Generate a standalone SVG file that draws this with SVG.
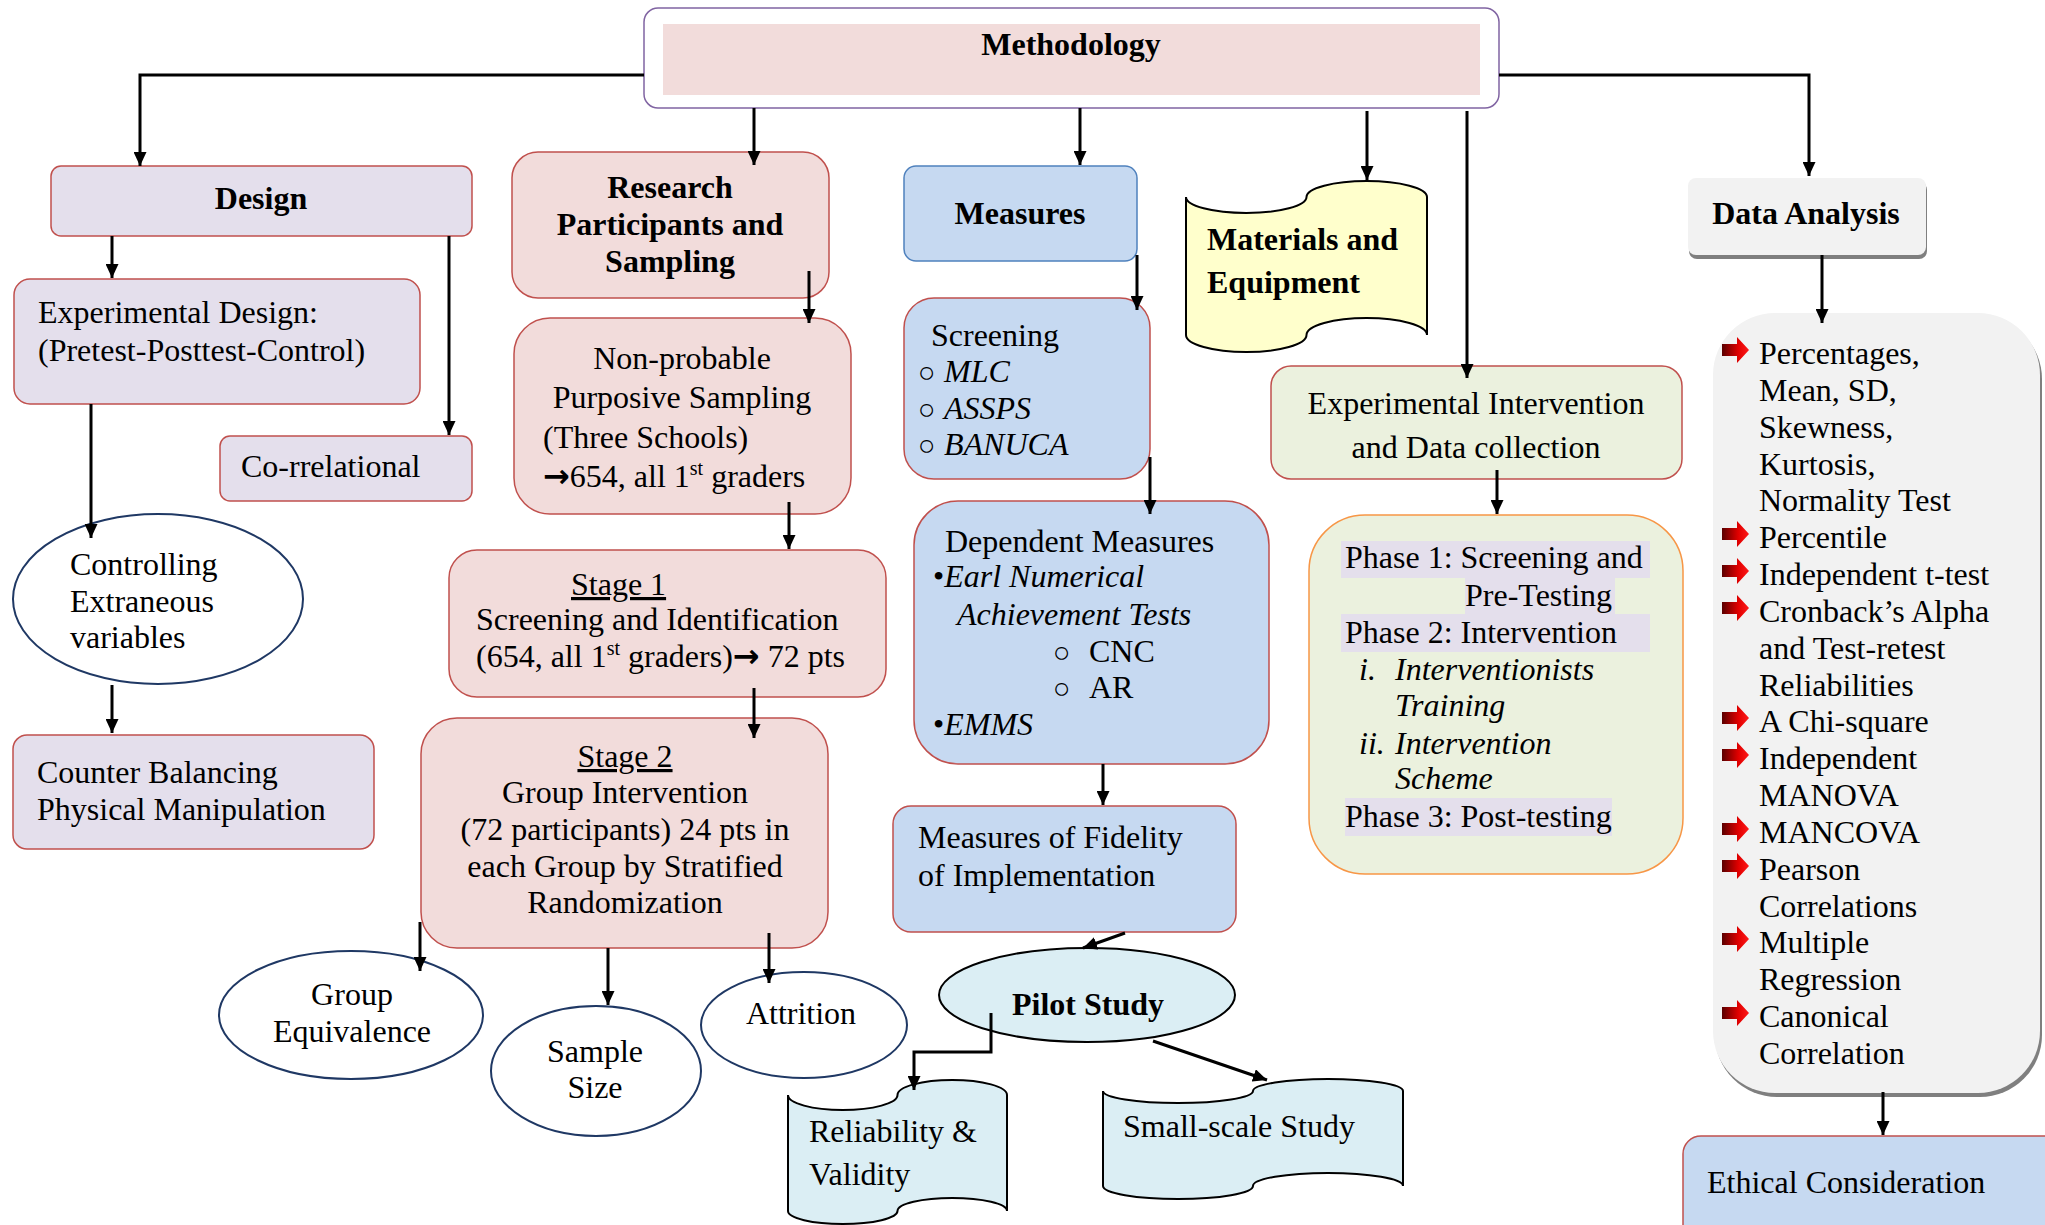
<svg xmlns="http://www.w3.org/2000/svg" width="2045" height="1225" viewBox="0 0 2045 1225">
<style>
text{font-family:"Liberation Serif","Times New Roman",serif;font-size:32px;fill:#000}
.b{font-weight:bold}
.i{font-style:italic}
.m{text-anchor:middle}
.u{text-decoration:underline}
.ar{font-family:"DejaVu Sans","Noto Sans",sans-serif;font-size:32px;font-weight:bold}
.pink{fill:#f2dcdb;stroke:#c0504d;stroke-width:1.5}
.lav{fill:#e4dfec;stroke:#c0504d;stroke-width:1.5}
.blue{fill:#c6d9f1;stroke:#c0504d;stroke-width:1.5}
.green{fill:#ebf1de;stroke:#c0504d;stroke-width:1.5}
.ell{fill:#fff;stroke:#1f3864;stroke-width:2}
.tape{fill:#dbeef4;stroke:#000;stroke-width:2}
.hl{fill:#e4dfec}
.con{fill:none;stroke:#000;stroke-width:3;marker-end:url(#ah)}
</style>
<defs>
<marker id="ah" markerUnits="userSpaceOnUse" markerWidth="14" markerHeight="13" refX="14" refY="6.5" orient="auto">
<path d="M0,0 L14,6.5 L0,13 z" fill="#000"/>
</marker>
<linearGradient id="rg" x1="0" y1="0" x2="1" y2="0">
<stop offset="0" stop-color="#5a0000"/>
<stop offset="0.6" stop-color="#e00000"/>
<stop offset="1" stop-color="#ff1a1a"/>
</linearGradient>
<polygon id="bul" points="0,-20 15,-20 15,-27 27,-14 15,-1 15,-8 0,-8" fill="url(#rg)"/>
</defs>
<rect width="2045" height="1225" fill="#fff"/>

<g id="methodology">
<rect x="644" y="8" width="855" height="100" rx="14" fill="#fff" stroke="#8064a2" stroke-width="1.5"/>
<rect x="663" y="24" width="817" height="71" fill="#f2dcdb"/>
<text class="b m" x="1071" y="55">Methodology</text>
</g>

<g id="design">
<rect class="lav" x="51" y="166" width="421" height="70" rx="10"/>
<text class="b m" x="261" y="209">Design</text>
</g>
<g id="experimental-design">
<rect class="lav" x="14" y="279" width="406" height="125" rx="16"/>
<text x="38" y="323">Experimental Design:</text>
<text x="38" y="361">(Pretest-Posttest-Control)</text>
</g>
<g id="correlational">
<rect class="lav" x="220" y="436" width="252" height="65" rx="10"/>
<text x="241" y="477">Co-rrelational</text>
</g>
<g id="controlling">
<ellipse class="ell" cx="158" cy="599" rx="145" ry="85"/>
<text x="70" y="575">Controlling</text>
<text x="70" y="612">Extraneous</text>
<text x="70" y="648">variables</text>
</g>
<g id="counter-balancing">
<rect class="lav" x="13" y="735" width="361" height="114" rx="14"/>
<text x="37" y="783">Counter Balancing</text>
<text x="37" y="820">Physical Manipulation</text>
</g>

<g id="research">
<rect class="pink" x="512" y="152" width="317" height="146" rx="26"/>
<text class="b m" x="670" y="198">Research</text>
<text class="b m" x="670" y="235">Participants and</text>
<text class="b m" x="670" y="272">Sampling</text>
</g>
<g id="non-probable">
<rect class="pink" x="514" y="318" width="337" height="196" rx="36"/>
<text class="m" x="682" y="369">Non-probable</text>
<text class="m" x="682" y="408">Purposive Sampling</text>
<text x="543" y="448">(Three Schools)</text>
<text x="543" y="487"><tspan class="ar">→</tspan>654, all 1<tspan font-size="20" dy="-12">st</tspan><tspan dy="12"> graders</tspan></text>
</g>
<g id="stage1">
<rect class="pink" x="449" y="550" width="437" height="147" rx="28"/>
<text class="u" x="571" y="595">Stage 1</text>
<text x="476" y="630">Screening and Identification</text>
<text x="476" y="667">(654, all 1<tspan font-size="20" dy="-12">st</tspan><tspan dy="12"> graders)</tspan><tspan class="ar">→</tspan> 72 pts</text>
</g>
<g id="stage2">
<rect class="pink" x="421" y="718" width="407" height="230" rx="36"/>
<text class="m u" x="625" y="767">Stage 2</text>
<text class="m" x="625" y="803">Group Intervention</text>
<text class="m" x="625" y="840">(72 participants) 24 pts in</text>
<text class="m" x="625" y="877">each Group by Stratified</text>
<text class="m" x="625" y="913">Randomization</text>
</g>
<g id="group-equivalence">
<ellipse class="ell" cx="351" cy="1015" rx="132" ry="64"/>
<text class="m" x="352" y="1005">Group</text>
<text class="m" x="352" y="1042">Equivalence</text>
</g>
<g id="sample-size">
<ellipse class="ell" cx="596" cy="1071" rx="105" ry="65"/>
<text class="m" x="595" y="1062">Sample</text>
<text class="m" x="595" y="1098">Size</text>
</g>
<g id="attrition">
<ellipse class="ell" cx="804" cy="1025" rx="103" ry="53"/>
<text class="m" x="801" y="1024">Attrition</text>
</g>

<g id="measures">
<rect x="904" y="166" width="233" height="95" rx="12" fill="#c6d9f1" stroke="#4f81bd" stroke-width="1.5"/>
<text class="b m" x="1020" y="224">Measures</text>
</g>
<g id="screening">
<rect class="blue" x="904" y="298" width="246" height="181" rx="30"/>
<text x="931" y="346">Screening</text>
<text x="918" y="382"><tspan font-size="29">○</tspan><tspan class="i" x="944">MLC</tspan></text>
<text x="918" y="419"><tspan font-size="29">○</tspan><tspan class="i" x="944">ASSPS</tspan></text>
<text x="918" y="455"><tspan font-size="29">○</tspan><tspan class="i" x="944">BANUCA</tspan></text>
</g>
<g id="dependent-measures">
<rect class="blue" x="914" y="501" width="355" height="263" rx="44"/>
<text x="945" y="552">Dependent Measures</text>
<text x="933" y="587">•<tspan class="i">Earl Numerical</tspan></text>
<text class="i" x="957" y="625">Achievement Tests</text>
<text x="1053" y="662"><tspan font-size="29">○</tspan><tspan x="1089">CNC</tspan></text>
<text x="1053" y="698"><tspan font-size="29">○</tspan><tspan x="1089">AR</tspan></text>
<text x="933" y="735">•<tspan class="i">EMMS</tspan></text>
</g>
<g id="fidelity">
<rect class="blue" x="893" y="806" width="343" height="126" rx="18"/>
<text x="918" y="848">Measures of Fidelity</text>
<text x="918" y="886">of Implementation</text>
</g>
<g id="pilot-study">
<ellipse cx="1087" cy="995" rx="148" ry="47" fill="#dbeef4" stroke="#000" stroke-width="2"/>
<text class="b m" x="1088" y="1015">Pilot Study</text>
</g>
<g id="reliability">
<path class="tape" d="M788,1095 A54.75,15 0 0 0 897.5,1095 A54.75,15 0 0 1 1007,1095 L1007,1211 A54.75,13 0 0 0 897.5,1211 A54.75,13 0 0 1 788,1211 Z"/>
<text x="809" y="1142">Reliability &amp;</text>
<text x="809" y="1185">Validity</text>
</g>
<g id="small-scale">
<path class="tape" d="M1103,1091 A75,12 0 0 0 1253,1091 A75,12 0 0 1 1403,1091 L1403,1186 A75,13 0 0 0 1253,1186 A75,13 0 0 1 1103,1186 Z"/>
<text x="1123" y="1137">Small-scale Study</text>
</g>

<g id="materials">
<path d="M1186,197 A60.25,16 0 0 0 1306.5,197 A60.25,16 0 0 1 1427,197 L1427,335 A60.25,17 0 0 0 1306.5,335 A60.25,17 0 0 1 1186,335 Z" fill="#ffffcc" stroke="#000" stroke-width="2"/>
<text class="b" x="1207" y="250">Materials and</text>
<text class="b" x="1207" y="293">Equipment</text>
</g>
<g id="experimental-intervention">
<rect class="green" x="1271" y="366" width="411" height="113" rx="20"/>
<text class="m" x="1476" y="414">Experimental Intervention</text>
<text class="m" x="1476" y="458">and Data collection</text>
</g>
<g id="phases">
<rect x="1309" y="515" width="374" height="359" rx="56" fill="#ebf1de" stroke="#f79646" stroke-width="1.5"/>
<rect class="hl" x="1341" y="541" width="309" height="37"/>
<rect class="hl" x="1465" y="578" width="150" height="36"/>
<rect class="hl" x="1341" y="614" width="309" height="38"/>
<rect class="hl" x="1345" y="798" width="267" height="38"/>
<text x="1345" y="568">Phase 1: Screening and</text>
<text x="1465" y="606">Pre-Testing</text>
<text x="1345" y="643">Phase 2: Intervention</text>
<text class="i" x="1359" y="680">i.</text>
<text class="i" x="1395" y="680">Interventionists</text>
<text class="i" x="1395" y="716">Training</text>
<text class="i" x="1359" y="754">ii.</text>
<text class="i" x="1395" y="754">Intervention</text>
<text class="i" x="1395" y="789">Scheme</text>
<text x="1345" y="827">Phase 3: Post-testing</text>
</g>

<g id="data-analysis">
<rect x="1689" y="182" width="238" height="77" rx="8" fill="#7f7f7f"/>
<rect x="1688" y="178" width="238" height="77" rx="8" fill="#f2f2f2"/>
<text class="b m" x="1806" y="224">Data Analysis</text>
</g>
<g id="analysis-list">
<rect x="1715" y="317" width="327" height="780" rx="62" fill="#7f7f7f"/>
<rect x="1713" y="313" width="327" height="780" rx="62" fill="#f2f2f2"/>
<use href="#bul" x="1722" y="364"/>
<use href="#bul" x="1722" y="548"/>
<use href="#bul" x="1722" y="585"/>
<use href="#bul" x="1722" y="622"/>
<use href="#bul" x="1722" y="732"/>
<use href="#bul" x="1722" y="769"/>
<use href="#bul" x="1722" y="843"/>
<use href="#bul" x="1722" y="880"/>
<use href="#bul" x="1722" y="953"/>
<use href="#bul" x="1722" y="1027"/>
<text x="1759" y="364">Percentages,</text>
<text x="1759" y="401">Mean, SD,</text>
<text x="1759" y="438">Skewness,</text>
<text x="1759" y="475">Kurtosis,</text>
<text x="1759" y="511">Normality Test</text>
<text x="1759" y="548">Percentile</text>
<text x="1759" y="585">Independent t-test</text>
<text x="1759" y="622">Cronback’s Alpha</text>
<text x="1759" y="659">and Test-retest</text>
<text x="1759" y="696">Reliabilities</text>
<text x="1759" y="732">A Chi-square</text>
<text x="1759" y="769">Independent</text>
<text x="1759" y="806">MANOVA</text>
<text x="1759" y="843">MANCOVA</text>
<text x="1759" y="880">Pearson</text>
<text x="1759" y="917">Correlations</text>
<text x="1759" y="953">Multiple</text>
<text x="1759" y="990">Regression</text>
<text x="1759" y="1027">Canonical</text>
<text x="1759" y="1064">Correlation</text>
</g>
<g id="ethical">
<rect class="blue" x="1683" y="1136" width="400" height="120" rx="18"/>
<text x="1707" y="1193">Ethical Consideration</text>
</g>

<g id="connectors">
<path class="con" d="M644,75 H140 V166"/>
<path class="con" d="M1499,75 H1809 V176"/>
<path class="con" d="M754,108 V165"/>
<path class="con" d="M1080,108 V165"/>
<path class="con" d="M1367,111 V180"/>
<path class="con" d="M1467,111 V378"/>
<path class="con" d="M112,236 V278"/>
<path class="con" d="M449,236 V435"/>
<path class="con" d="M91,404 V538"/>
<path class="con" d="M112,685 V733"/>
<path class="con" d="M809,271 V323"/>
<path class="con" d="M789,502 V549"/>
<path class="con" d="M754,688 V738"/>
<path class="con" d="M420,922 V971"/>
<path class="con" d="M608,948 V1005"/>
<path class="con" d="M769,933 V983"/>
<path class="con" d="M1137,255 V310"/>
<path class="con" d="M1150,457 V514"/>
<path class="con" d="M1103,764 V805"/>
<path class="con" d="M1125,933 L1083,948"/>
<path class="con" d="M991,1013 V1052 H914 V1090"/>
<path class="con" d="M1153,1041 L1267,1080"/>
<path class="con" d="M1497,470 V514"/>
<path class="con" d="M1822,255 V323"/>
<path class="con" d="M1883,1092 V1135"/>
</g>
</svg>
